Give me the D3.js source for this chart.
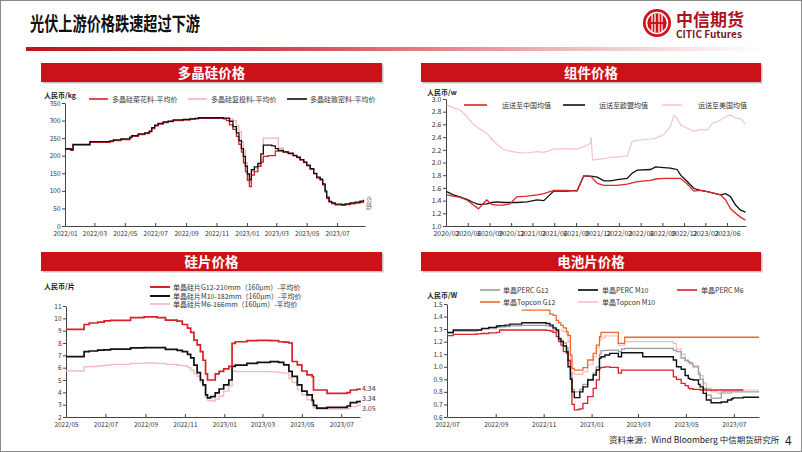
<!DOCTYPE html>
<html>
<head>
<meta charset="utf-8">
<script src="https://cdn.jsdelivr.net/npm/d3@7"></script>
<style>
  body { margin: 0; background: #fff; }
  svg text { font-family: "Noto Sans CJK SC", "Noto Sans", sans-serif; }
</style>
</head>
<body>
<svg id="chart" width="802" height="452"></svg>
<script>

// ---------- data: polysilicon (RMB/kg) ----------
const polyDates = ["2022-01-01","2022-01-13","2022-01-17","2022-02-12","2022-02-20","2022-04-01","2022-04-08","2022-04-23","2022-05-11","2022-05-15",
  "2022-05-28","2022-06-10","2022-06-19","2022-06-24","2022-06-30","2022-07-07","2022-07-17","2022-07-27","2022-08-06","2022-08-26",
  "2022-09-09","2022-09-19","2022-09-26","2022-10-28","2022-11-15","2022-11-21","2022-11-27","2022-12-04","2022-12-11","2022-12-16",
  "2022-12-21","2022-12-25","2022-12-29","2023-01-02","2023-01-06","2023-01-10","2023-01-16","2023-01-23","2023-01-29","2023-02-03",
  "2023-02-13","2023-02-20","2023-02-27","2023-03-05","2023-03-15","2023-03-25","2023-04-04","2023-04-11","2023-04-18","2023-04-25",
  "2023-05-01","2023-05-08","2023-05-15","2023-05-21","2023-05-28","2023-06-02","2023-06-07","2023-06-10","2023-06-15","2023-06-20",
  "2023-06-27","2023-07-11","2023-07-17","2023-07-27","2023-08-06","2023-08-16","2023-08-23"];
const polyDense = [220,217,232,232,240,242,245,248,253,257,
  262,265,270,280,287,292,296,298,302,303,
  305,306,308,308,307,307,298,283,265,243,
  220,198,170,148,132,160,168,178,205,230,
  230,228,220,215,211,207,201,196,189,182,
  173,163,150,139,133,120,100,82,70,66,
  62,61,63,66,68,71,75];
const polyCauliflower = [218,215,230,230,238,240,243,246,251,255,
  260,263,268,277,285,290,294,297,300,302,
  304,305,306,306,305,300,288,275,255,232,
  210,180,155,130,112,145,155,170,182,198,
  200,200,213,213,210,206,200,195,188,181,
  172,162,149,137,131,117,97,78,68,64,
  60,59,61,63,65,67,69];
const polyRecharge = [220,217,231,231,239,241,244,247,252,256,
  261,264,269,279,286,291,295,298,301,303,
  305,306,307,307,306,306,305,300,285,268,
  240,215,180,150,122,155,162,175,188,250,
  250,250,250,222,210,205,199,194,187,180,
  171,161,148,136,131,118,98,80,69,65,
  61,60,62,64,67,69,72];
const polyEndLabels = [75, 72, 69, 67];
const polyXTicks = ["2022/01","2022/03","2022/05","2022/07","2022/09","2022/11","2023/01","2023/03","2023/05","2023/07"];
const polyYTicks = [0,50,100,150,200,250,300,350];

// ---------- data: modules (RMB/W) ----------
const moduleDates = ["2020-03-04","2020-04-01","2020-04-29","2020-05-28","2020-06-25","2020-07-16","2020-07-30","2020-08-20","2020-09-10","2020-10-01",
  "2020-10-30","2020-11-27","2020-12-25","2021-02-06","2021-03-21","2021-04-18","2021-05-30","2021-07-26","2021-09-06","2021-09-23",
  "2021-10-04","2021-11-01","2021-11-04","2021-11-10","2021-11-30","2021-12-28","2022-01-25","2022-02-22","2022-04-05","2022-04-26",
  "2022-05-18","2022-07-13","2022-08-03","2022-09-07","2022-10-05","2022-10-19","2022-11-02","2022-11-17","2022-12-15","2023-01-12",
  "2023-02-09","2023-03-10","2023-03-31","2023-05-05","2023-05-26","2023-06-16","2023-07-07","2023-07-28","2023-08-18"];
const moduleChina = [1.49,1.47,1.45,1.41,1.33,1.27,1.33,1.41,1.34,1.33,
  1.33,1.35,1.46,1.47,1.49,1.51,1.56,1.56,1.55,1.70,
  1.79,1.79,1.78,1.75,1.67,1.64,1.64,1.64,1.66,1.68,
  1.70,1.72,1.74,1.75,1.75,1.75,1.75,1.75,1.66,1.55,
  1.56,1.54,1.52,1.49,1.41,1.27,1.20,1.14,1.09];
const moduleEU = [1.54,1.49,1.46,1.42,1.37,1.34,1.34,1.35,1.37,1.38,
  1.37,1.37,1.37,1.38,1.41,1.40,1.55,1.55,1.56,1.70,
  1.79,1.78,1.78,1.78,1.77,1.71,1.71,1.73,1.75,1.83,
  1.88,1.89,1.93,1.92,1.91,1.90,1.89,1.80,1.70,1.59,
  1.56,1.54,1.52,1.49,1.51,1.46,1.33,1.25,1.22];
const moduleUS = [2.91,2.86,2.83,2.72,2.60,2.54,2.51,2.46,2.37,2.29,
  2.20,2.18,2.16,2.15,2.17,2.16,2.21,2.22,2.21,2.24,
  2.25,2.30,2.40,2.04,2.05,2.06,2.08,2.09,2.10,2.33,
  2.35,2.37,2.38,2.44,2.57,2.74,2.70,2.59,2.54,2.49,
  2.52,2.51,2.62,2.67,2.72,2.75,2.70,2.69,2.60];
const moduleXTicks = ["2020/03","2020/06","2020/09","2020/12","2021/03","2021/06","2021/09","2021/12","2022/03","2022/06","2022/09","2022/12","2023/03","2023/06"];
const moduleYTicks = [1.0,1.2,1.4,1.6,1.8,2.0,2.2,2.4,2.6,2.8,3.0];

// ---------- data: wafers (RMB/pc) ----------
const waferDates = ["2022-05-01","2022-05-24","2022-05-29","2022-06-06","2022-06-19","2022-06-29","2022-07-09","2022-08-09","2022-08-30","2022-09-19",
  "2022-10-02","2022-10-20","2022-10-28","2022-11-05","2022-11-10","2022-11-15","2022-11-20","2022-11-25","2022-11-29","2022-12-03",
  "2022-12-06","2022-12-11","2022-12-18","2022-12-24","2022-12-31","2023-01-08","2023-01-13","2023-01-18","2023-02-05","2023-02-21",
  "2023-03-13","2023-03-26","2023-04-03","2023-04-11","2023-04-16","2023-04-24","2023-05-01","2023-05-09","2023-05-17","2023-05-19",
  "2023-05-24","2023-06-09","2023-07-10","2023-07-15","2023-07-25","2023-07-30"];
const waferG12 = [9.1,9.1,9.5,9.62,9.7,9.8,9.84,10.05,10.12,10.05,
  9.86,9.78,9.5,9.2,8.86,8.24,7.84,7.3,6.6,5.5,
  5.0,5.0,5.5,5.7,5.9,6.1,7.97,8.1,8.19,8.22,
  8.19,8.1,8.07,8.0,6.5,6.22,5.73,5.41,5.27,4.19,
  4.19,3.92,3.97,4.19,4.25,4.34];
const waferM10 = [6.89,6.89,7.3,7.35,7.43,7.45,7.51,7.6,7.62,7.62,
  7.49,7.4,7.3,7.08,6.8,6.2,5.6,5.0,4.6,3.8,
  3.55,3.65,3.95,4.27,4.6,5.0,6.1,6.2,6.35,6.43,
  6.49,6.43,6.22,5.7,5.3,4.6,4.1,3.8,3.35,2.95,
  2.72,2.78,2.89,3.16,3.24,3.34];
const waferM6 = [5.73,5.73,6.08,6.1,6.16,6.2,6.27,6.35,6.38,6.35,
  6.27,6.2,6.16,6.0,5.8,5.5,5.3,4.8,4.5,3.6,
  3.35,3.3,3.45,3.7,4.1,4.5,5.73,5.68,5.68,5.68,
  5.66,5.6,5.54,5.14,4.8,4.2,3.8,3.4,3.1,2.75,
  2.62,2.65,2.7,2.84,2.95,3.05];
const waferEndLabels = ["4.34", "3.34", "3.05"];
const waferXTicks = ["2022/05","2022/07","2022/09","2022/11","2023/01","2023/03","2023/05","2023/07"];
const waferYTicks = [2,3,4,5,6,7,8,9,10,11];

// ---------- data: cells (RMB/W) ----------
const cellDates = ["2022-07-01","2022-07-09","2022-08-08","2022-08-14","2022-08-23","2022-09-02","2022-09-06","2022-09-13","2022-09-19","2022-10-04",
  "2022-10-06","2022-10-31","2022-11-04","2022-11-09","2022-11-13","2022-11-17","2022-11-20","2022-11-23","2022-11-26","2022-11-30",
  "2022-12-02","2022-12-05","2022-12-07","2022-12-10","2022-12-15","2022-12-17","2022-12-21","2022-12-27","2023-01-03","2023-01-07",
  "2023-01-11","2023-01-13","2023-01-18","2023-01-24","2023-02-02","2023-02-04","2023-02-08","2023-02-12","2023-03-07","2023-04-10",
  "2023-04-15","2023-04-19","2023-04-25","2023-04-30","2023-05-04","2023-05-06","2023-05-10","2023-05-17","2023-05-19","2023-05-23",
  "2023-05-27","2023-06-02","2023-06-11","2023-06-15","2023-06-23","2023-06-28","2023-06-30","2023-07-13","2023-08-02"];
const cellPercG12 = [1.266,1.285,1.29,1.30,1.305,1.315,1.318,1.32,1.325,1.33,
  1.33,1.33,1.325,1.32,1.30,1.28,1.23,1.21,1.19,1.15,
  1.05,0.95,0.82,0.80,0.80,0.82,0.86,0.90,0.95,1.0,
  1.10,1.128,1.13,1.133,1.133,1.12,1.14,1.147,1.147,1.147,
  1.13,1.12,1.07,1.05,1.04,1.03,1.0,0.94,0.9,0.828,
  0.775,0.75,0.75,0.80,0.80,0.80,0.80,0.80,0.80];
const cellPercM10 = [1.274,1.293,1.293,1.306,1.314,1.325,1.328,1.332,1.34,1.35,
  1.351,1.351,1.345,1.332,1.31,1.293,1.221,1.2,1.165,1.12,
  1.0,0.9,0.8,0.754,0.754,0.8,0.84,0.895,0.934,0.974,
  1.067,1.08,1.094,1.107,1.107,1.08,1.112,1.112,1.08,1.08,
  1.054,1.0,0.98,0.93,0.908,0.9,0.895,0.86,0.84,0.788,
  0.735,0.714,0.714,0.72,0.735,0.745,0.752,0.757,0.757];
const cellPercM6 = [1.248,1.258,1.262,1.265,1.27,1.274,1.293,1.293,1.293,1.293,
  1.293,1.293,1.29,1.285,1.274,1.24,1.2,1.173,1.12,1.107,
  1.05,0.908,0.7,0.656,0.66,0.664,0.709,0.762,0.828,0.895,
  0.99,0.995,1.0,0.995,0.993,0.95,0.974,0.974,0.974,0.974,
  0.92,0.9,0.868,0.85,0.83,0.825,0.82,0.82,0.815,0.815,
  0.815,0.815,0.815,0.815,0.815,0.815,0.815,0.815,null];
const cellTopconG12 = [null,null,null,null,null,null,null,null,null,1.452,
  1.452,1.452,1.452,1.42,1.41,1.37,1.35,1.33,1.31,1.28,
  1.25,1.094,0.987,0.974,0.974,0.974,0.993,1.054,1.107,1.173,
  1.24,1.274,1.274,1.274,1.274,1.187,1.187,1.235,1.235,1.235,
  1.235,1.235,1.235,1.235,1.235,1.235,1.235,1.235,1.235,1.235,
  1.235,1.235,1.235,1.235,1.235,1.235,1.235,1.235,1.235];
const cellTopconM10 = [null,null,null,null,null,null,null,null,null,null,
  null,null,null,null,null,null,null,1.29,1.28,1.26,
  1.2,1.05,0.95,0.94,0.94,0.94,0.96,1.02,1.08,1.15,
  1.21,1.23,1.245,1.245,1.245,1.17,1.17,1.2,1.2,1.2,
  1.187,1.14,1.1,1.054,1.03,1.02,1.01,0.96,0.93,0.87,
  0.83,0.80,0.788,0.788,0.788,0.815,0.815,0.815,0.815];
const cellXTicks = ["2022/07","2022/09","2022/11","2023/01","2023/03","2023/05","2023/07"];
const cellYTicks = [0.6,0.7,0.8,0.9,1.0,1.1,1.2,1.3,1.4,1.5];

// ---------- helpers ----------
const parseDay = d3.timeParse("%Y-%m-%d");
const parseMonth = d3.timeParse("%Y/%m");
const fmtMonth = d3.timeFormat("%Y/%m");
const svg = d3.select("#chart");

svg.append("rect").attr("width", 802).attr("height", 452).attr("fill", "#fff");

function drawPanel(p) {
  const x = d3.scaleTime().domain([parseDay(p.start), parseDay(p.end)]).range([p.left, p.right]);
  const y = d3.scaleLinear().domain([p.yTicks[0], p.yTicks[p.yTicks.length - 1]]).range([p.bottom, p.top]);

  // title bar
  svg.append("rect").attr("x", p.barX + 1.5).attr("y", p.barY + 1.5)
    .attr("width", p.barW).attr("height", 19).attr("fill", "#c4c4c4");
  svg.append("rect").attr("x", p.barX).attr("y", p.barY)
    .attr("width", p.barW).attr("height", 19).attr("fill", "#cc1219");
  svg.append("text").attr("x", p.barX + p.barW / 2).attr("y", p.barY + 14.5)
    .attr("text-anchor", "middle").attr("fill", "#fff")
    .attr("font-size", 13.5).attr("font-weight", 700).text(p.title);

  // unit
  svg.append("text").attr("x", p.unitX).attr("y", p.unitY)
    .attr("font-size", 7).attr("font-weight", 700).attr("fill", "#222").text(p.unit);

  // axes
  const gx = svg.append("g").attr("transform", `translate(0,${p.bottom})`)
    .call(d3.axisBottom(x).tickValues(p.xTicks.map(parseMonth)).tickFormat(fmtMonth)
      .tickSizeInner(-3).tickSizeOuter(0).tickPadding(5));
  const gy = svg.append("g").attr("transform", `translate(${p.left},0)`)
    .call(d3.axisLeft(y).tickValues(p.yTicks).tickFormat(d3.format(p.yFormat))
      .tickSizeInner(3).tickSizeOuter(0).tickPadding(1.5));
  [gx, gy].forEach(g => {
    g.select(".domain").attr("stroke", "#444").attr("stroke-width", 1);
    g.selectAll(".tick line").attr("stroke", "#444");
    g.selectAll(".tick text").attr("fill", "#333")
      .attr("font-family", "'Liberation Sans', Arial, sans-serif").attr("font-size", p.tickFont);
  });

  // lines
  p.series.forEach(s => {
    const pts = p.dates.map((d, i) => ({ date: parseDay(d), v: s.values[i] }));
    const line = d3.line().defined(d => d.v != null)
      .x(d => x(d.date)).y(d => y(d.v)).curve(p.curve);
    svg.append("path").datum(pts).attr("d", line).attr("fill", "none")
      .attr("stroke", s.color).attr("stroke-width", s.width);
  });

  // legend
  p.legend.forEach(l => {
    const s = p.series.find(d => d.name === l.name);
    svg.append("line").attr("x1", l.x).attr("x2", l.x + l.len).attr("y1", l.y).attr("y2", l.y)
      .attr("stroke", s.color).attr("stroke-width", s.width + 0.3);
    svg.append("text").attr("x", l.tx).attr("y", l.y + 2.5)
      .attr("font-size", 7).attr("fill", "#333").text(s.name);
  });
  return { x, y };
}

// ---------- header ----------
svg.append("text").attr("x", 30).attr("y", 31).attr("font-size", 19).attr("font-weight", 700)
  .attr("textLength", 170).attr("lengthAdjust", "spacingAndGlyphs")
  .attr("fill", "#111").text("光伏上游价格跌速超过下游");

const grad = svg.append("defs").append("linearGradient").attr("id", "hdr");
grad.append("stop").attr("offset", "0%").attr("stop-color", "#c1121b");
grad.append("stop").attr("offset", "35%").attr("stop-color", "#d4464c");
grad.append("stop").attr("offset", "75%").attr("stop-color", "#f0c0c2");
grad.append("stop").attr("offset", "100%").attr("stop-color", "#ffffff");
svg.append("rect").attr("x", 26).attr("y", 47).attr("width", 740).attr("height", 4).attr("fill", "url(#hdr)");

// logo
const logo = svg.append("g").attr("transform", "translate(657,23)");
logo.append("circle").attr("r", 14).attr("fill", "#d30f1c");
logo.append("circle").attr("r", 10.5).attr("fill", "none").attr("stroke", "#fff").attr("stroke-width", 1.6);
[-5, -2, 2, 5].forEach(dx => {
  logo.append("line").attr("x1", dx).attr("x2", dx).attr("y1", -9).attr("y2", 9)
    .attr("stroke", "#fff").attr("stroke-width", 1.3);
});
logo.append("line").attr("x1", -7).attr("x2", 7).attr("y1", 0).attr("y2", 0).attr("stroke", "#d30f1c").attr("stroke-width", 2);
svg.append("text").attr("x", 676).attr("y", 26).attr("font-size", 17).attr("font-weight", 700)
  .attr("fill", "#a8131c").text("中信期货");
svg.append("text").attr("x", 676).attr("y", 38).attr("font-size", 10).attr("font-weight", 700)
  .attr("font-family", "'Liberation Sans', Arial, sans-serif").attr("fill", "#7a1a1e").text("CITIC Futures");

// ---------- panels ----------
const poly = drawPanel({
  title: "多晶硅价格", barX: 41, barY: 63, barW: 341,
  unit: "人民币/kg", unitX: 44, unitY: 98,
  left: 65, right: 365, top: 103, bottom: 226,
  start: "2022-01-01", end: "2023-08-26",
  xTicks: polyXTicks, yTicks: polyYTicks, yFormat: "d", tickFont: 6.5,
  dates: polyDates, curve: d3.curveStepAfter,
  series: [
    { name: "多晶硅复投料-平均价", values: polyRecharge, color: "#f3b3ba", width: 1.3 },
    { name: "多晶硅菜花料-平均价", values: polyCauliflower, color: "#da1f28", width: 1.3 },
    { name: "多晶硅致密料-平均价", values: polyDense, color: "#111", width: 1.3 }
  ],
  legend: [
    { name: "多晶硅菜花料-平均价", x: 89, len: 19, y: 99, tx: 112 },
    { name: "多晶硅复投料-平均价", x: 188, len: 19, y: 99, tx: 211 },
    { name: "多晶硅致密料-平均价", x: 287, len: 20, y: 99, tx: 310 }
  ]
});
polyEndLabels.forEach((v, i) => {
  svg.append("text").attr("x", 366).attr("y", poly.y(polyEndLabels[0]) + 0.5 + i * 3.4)
    .attr("font-size", 4.6).attr("font-style", "italic").attr("fill", "#333")
    .attr("font-family", "'Liberation Sans', Arial, sans-serif").text(v);
});

drawPanel({
  title: "组件价格", barX: 421, barY: 63, barW: 340,
  unit: "人民币/w", unitX: 427, unitY: 95,
  left: 446, right: 746, top: 99, bottom: 226,
  start: "2020-03-01", end: "2023-08-20",
  xTicks: moduleXTicks, yTicks: moduleYTicks, yFormat: ".1f", tickFont: 7,
  dates: moduleDates, curve: d3.curveLinear,
  series: [
    { name: "运送至美国均值", values: moduleUS, color: "#f5c3c8", width: 1.2 },
    { name: "运送至欧盟均值", values: moduleEU, color: "#111", width: 1.3 },
    { name: "运送至中国均值", values: moduleChina, color: "#e0242c", width: 1.3 }
  ],
  legend: [
    { name: "运送至中国均值", x: 464, len: 23, y: 105, tx: 502 },
    { name: "运送至欧盟均值", x: 563, len: 22, y: 105, tx: 599 },
    { name: "运送至美国均值", x: 662, len: 20, y: 105, tx: 698 }
  ]
});

const wafer = drawPanel({
  title: "硅片价格", barX: 41, barY: 252, barW: 341,
  unit: "人民币/片", unitX: 44, unitY: 289,
  left: 66, right: 360, top: 306, bottom: 417,
  start: "2022-05-01", end: "2023-07-30",
  xTicks: waferXTicks, yTicks: waferYTicks, yFormat: "d", tickFont: 6.5,
  dates: waferDates, curve: d3.curveStepAfter,
  series: [
    { name: "单晶硅片M6-166mm（160μm）-平均价", values: waferM6, color: "#f5bcc2", width: 1.4 },
    { name: "单晶硅片M10-182mm（160μm）-平均价", values: waferM10, color: "#111", width: 1.7 },
    { name: "单晶硅片G12-210mm（160μm）-平均价", values: waferG12, color: "#da1f28", width: 1.7 }
  ],
  legend: [
    { name: "单晶硅片G12-210mm（160μm）-平均价", x: 150, len: 20, y: 287, tx: 173 },
    { name: "单晶硅片M10-182mm（160μm）-平均价", x: 150, len: 20, y: 296, tx: 173 },
    { name: "单晶硅片M6-166mm（160μm）-平均价", x: 150, len: 20, y: 304, tx: 173 }
  ]
});
const waferEndOffsets = [0, -2, 4];
waferEndLabels.forEach((t, i) => {
  svg.append("text").attr("x", 362).attr("y", wafer.y(+t) + 2.5 + waferEndOffsets[i])
    .attr("font-size", 7).attr("fill", "#333")
    .attr("font-family", "'Liberation Mono', monospace").text(t);
});

drawPanel({
  title: "电池片价格", barX: 421, barY: 252, barW: 340,
  unit: "人民币/W", unitX: 427, unitY: 298,
  left: 447, right: 759, top: 304, bottom: 417,
  start: "2022-07-01", end: "2023-08-02",
  xTicks: cellXTicks, yTicks: cellYTicks, yFormat: ".1f", tickFont: 6.5,
  dates: cellDates, curve: d3.curveStepAfter,
  series: [
    { name: "单晶Topcon M10", values: cellTopconM10, color: "#f6b9c0", width: 1.2 },
    { name: "单晶PERC G12", values: cellPercG12, color: "#9c9ca8", width: 1.3 },
    { name: "单晶Topcon G12", values: cellTopconG12, color: "#ec6a2c", width: 1.3 },
    { name: "单晶PERC M6", values: cellPercM6, color: "#dd2029", width: 1.3 },
    { name: "单晶PERC M10", values: cellPercM10, color: "#111", width: 1.4 }
  ],
  legend: [
    { name: "单晶PERC G12", x: 480, len: 20, y: 290, tx: 503 },
    { name: "单晶PERC M10", x: 578, len: 20, y: 290, tx: 602 },
    { name: "单晶PERC M6", x: 677, len: 20, y: 290, tx: 701 },
    { name: "单晶Topcon G12", x: 480, len: 20, y: 302, tx: 503 },
    { name: "单晶Topcon M10", x: 578, len: 20, y: 302, tx: 602 }
  ]
});

// ---------- footer ----------
svg.append("text").attr("x", 609).attr("y", 443).attr("font-size", 8.5).attr("fill", "#222")
  .text("资料来源：Wind  Bloomberg  中信期货研究所");
svg.append("text").attr("x", 785).attr("y", 445).attr("font-size", 12).attr("fill", "#222")
  .attr("font-family", "'Liberation Sans', Arial, sans-serif").text("4");

svg.append("rect").attr("x", 0.5).attr("y", 0.5).attr("width", 801).attr("height", 451)
  .attr("fill", "none").attr("stroke", "#8a8a8a").attr("stroke-width", 1);

</script>
</body>
</html>
